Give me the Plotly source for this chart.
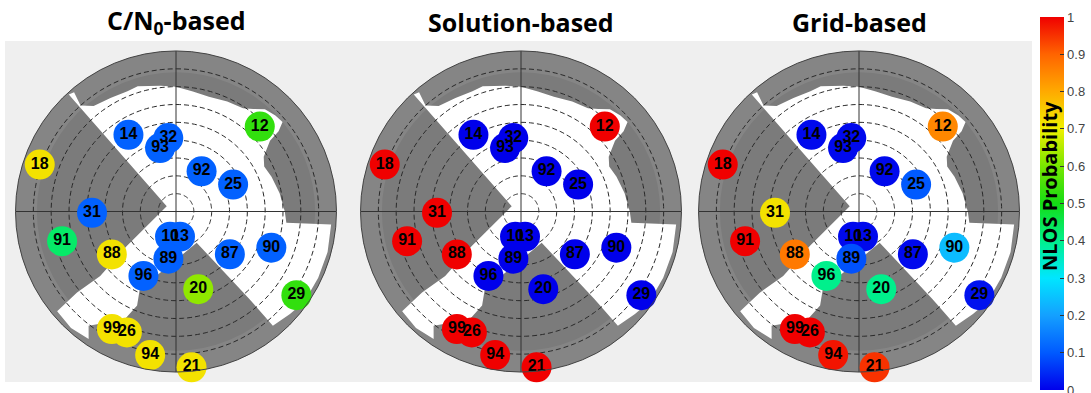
import plotly.graph_objects as go

W, H = 1091, 393

# Satellites: PRN label, azimuth (deg, clockwise from north), elevation (deg)
prn = ["14", "32", "93", "12", "18", "92", "25", "31", "91", "88", "10", "13",
       "89", "96", "87", "90", "20", "29", "99", "26", "94", "21"]
azimuth = [328.2, 354.0, 345.9, 44.6, 289.0, 32.5, 64.8, 269.1, 255.4, 236.2, 193.3, 171.0,
           189.2, 206.8, 128.5, 110.8, 164.0, 124.8, 208.6, 202.1, 190.2, 174.3]
elevation = [39.4, 48.6, 53.3, 23.1, 9.2, 63.3, 54.6, 42.9, 24.0, 46.7, 75.5, 75.7,
             63.2, 49.5, 51.4, 32.8, 44.7, 7.8, 14.9, 16.8, 8.2, 2.2]

# NLOS probability per satellite for each method
p_cn0 = [0.11, 0.11, 0.11, 0.53, 0.72, 0.11, 0.11, 0.11, 0.43, 0.72, 0.11, 0.11,
         0.11, 0.11, 0.11, 0.11, 0.62, 0.53, 0.72, 0.72, 0.72, 0.72]
p_solution = [0, 0, 0, 1, 1, 0, 0, 1, 1, 1, 0, 0,
              0, 0, 0, 0, 0, 0, 1, 1, 1, 1]
p_grid = [0.01, 0.01, 0.01, 0.85, 1.0, 0.01, 0.10, 0.72, 1.0, 0.87, 0.01, 0.01,
          0.09, 0.40, 0.01, 0.24, 0.40, 0.02, 1.0, 1.0, 0.98, 0.95]

titles = ["C/N<sub>0</sub>-based", "Solution-based", "Grid-based"]
probabilities = [p_cn0, p_solution, p_grid]

# Open-sky region (building mask outline): azimuth / elevation vertices
mask_azimuth = [300, 317.5, 319.5, 318, 322, 330, 338, 343, 353, 0, 8, 16, 25, 33, 37, 41, 46, 50,
                52, 53, 58, 63, 70, 80, 90, 95.8, 94.8, 105, 115, 125, 132, 139.7, 140, 146.5,
                188, 205, 202.5, 205.7, 214, 217.4, 214.4, 222, 230, 230.7, 229.6, 235, 239.4, 300]
mask_elevation = [84, 1, 2, 10, 15, 16.5, 17.3, 16.6, 19, 20, 22, 23, 22, 21, 18, 14, 12.5, 12,
                  17, 24, 32, 34.5, 33, 31, 29, 27.8, 2.7, 2, 2, 2, 4, 6, 26, 69,
                  59, 42, 33, 22, 14, 9.3, 3.3, 2, 3, 18.3, 34.2, 56.3, 66.6, 84]

# Low-elevation band shown with a lighter tone
low_band_elevation = 12

ring_elevations = [10, 20, 30, 40, 50, 60, 70, 80]
tick_values = [0, 0.1, 0.2, 0.3, 0.4, 0.5, 0.6, 0.7, 0.8, 0.9, 1]
tick_labels = ["0", "0.1", "0.2", "0.3", "0.4", "0.5", "0.6", "0.7", "0.8", "0.9", "1"]

colorscale = [
    [0.0, "rgb(0,0,235)"], [0.1, "rgb(0,90,255)"], [0.2, "rgb(20,160,255)"],
    [0.3, "rgb(0,230,255)"], [0.4, "rgb(0,240,140)"], [0.5, "rgb(20,220,20)"],
    [0.6, "rgb(120,230,0)"], [0.7, "rgb(240,240,0)"], [0.8, "rgb(255,170,0)"],
    [0.9, "rgb(255,100,0)"], [1.0, "rgb(240,0,0)"],
]

centers = [(176, 211.5), (521, 211.5), (859, 211.5)]
radius_px = 160.5

fig = go.Figure()
circle_theta = list(range(0, 361, 2))

for i, (cx, cy) in enumerate(centers):
    sub = "polar" if i == 0 else f"polar{i + 1}"
    # low-elevation band
    fig.add_trace(go.Barpolar(
        r=[low_band_elevation], base=[90 - low_band_elevation], theta=[0], width=[360],
        marker=dict(color="#858585", line=dict(width=0)),
        hoverinfo="skip", showlegend=False, subplot=sub))
    # open sky area
    fig.add_trace(go.Scatterpolar(
        r=[90 - e for e in mask_elevation], theta=mask_azimuth, mode="lines",
        fill="toself", fillcolor="white", line=dict(width=0, color="white"),
        hoverinfo="skip", showlegend=False, subplot=sub))
    # elevation rings
    for e in ring_elevations:
        fig.add_trace(go.Scatterpolar(
            r=[90 - e] * len(circle_theta), theta=circle_theta, mode="lines",
            line=dict(color="#2a2a2a", width=1, dash="5px,3px"),
            hoverinfo="skip", showlegend=False, subplot=sub))
    # N-S / E-W cross
    for t in (0, 90):
        fig.add_trace(go.Scatterpolar(
            r=[90, 0, 90], theta=[t, 0, t + 180], mode="lines",
            line=dict(color="#333333", width=1),
            hoverinfo="skip", showlegend=False, subplot=sub))
    # satellites
    marker = dict(size=30, color=probabilities[i], colorscale=colorscale,
                  cmin=0, cmax=1, line=dict(width=0))
    if i == 2:
        marker.update(showscale=True, colorbar=dict(
            x=1040 / W, xanchor="left", xpad=0, ypad=0,
            y=1 - 203.5 / H, yanchor="middle",
            len=373, lenmode="pixels", thickness=24, thicknessmode="pixels",
            outlinewidth=0, tickvals=tick_values, ticktext=tick_labels,
            ticks="inside", ticklen=4, tickcolor="#333",
            ticklabeloverflow="allow",
            tickfont=dict(family="Liberation Sans", size=13, color="#444")))
    fig.add_trace(go.Scatterpolar(
        r=[90 - e for e in elevation], theta=azimuth, mode="markers+text",
        marker=marker, text=prn, textposition="middle center",
        textfont=dict(family="Liberation Sans", size=16, color="black", weight="bold"),
        hoverinfo="skip", showlegend=False, subplot=sub))

    fig.add_annotation(x=cx / W, y=1 - 22 / H, xref="paper", yref="paper",
                       text=titles[i], showarrow=False, xanchor="center", yanchor="middle",
                       font=dict(family="Open Sans", size=25, color="black", weight="bold"))

    polar_layout = dict(
        domain=dict(x=[(cx - radius_px) / W, (cx + radius_px) / W],
                    y=[1 - (cy + radius_px) / H, 1 - (cy - radius_px) / H]),
        bgcolor="#7b7b7b",
        barmode="overlay",
        angularaxis=dict(rotation=90, direction="clockwise", showticklabels=False,
                         ticks="", showgrid=False, showline=True,
                         linecolor="#444", linewidth=1),
        radialaxis=dict(range=[0, 90], visible=False, showgrid=False),
    )
    fig.update_layout({sub: polar_layout})

fig.add_annotation(x=1049 / W, y=1 - 186 / H, xref="paper", yref="paper",
                   text="NLOS Probability", textangle=-90, showarrow=False,
                   xanchor="center", yanchor="middle",
                   font=dict(family="Open Sans", size=20, color="black", weight="bold"))

fig.add_shape(type="rect", xref="paper", yref="paper",
              x0=5 / W, x1=1032 / W, y0=1 - 382 / H, y1=1 - 41 / H,
              fillcolor="#efefef", line=dict(width=0), layer="below")

fig.update_layout(width=W, height=H, margin=dict(l=0, r=0, t=0, b=0),
                  paper_bgcolor="white", plot_bgcolor="white", showlegend=False)

fig.write_html("out.html")
